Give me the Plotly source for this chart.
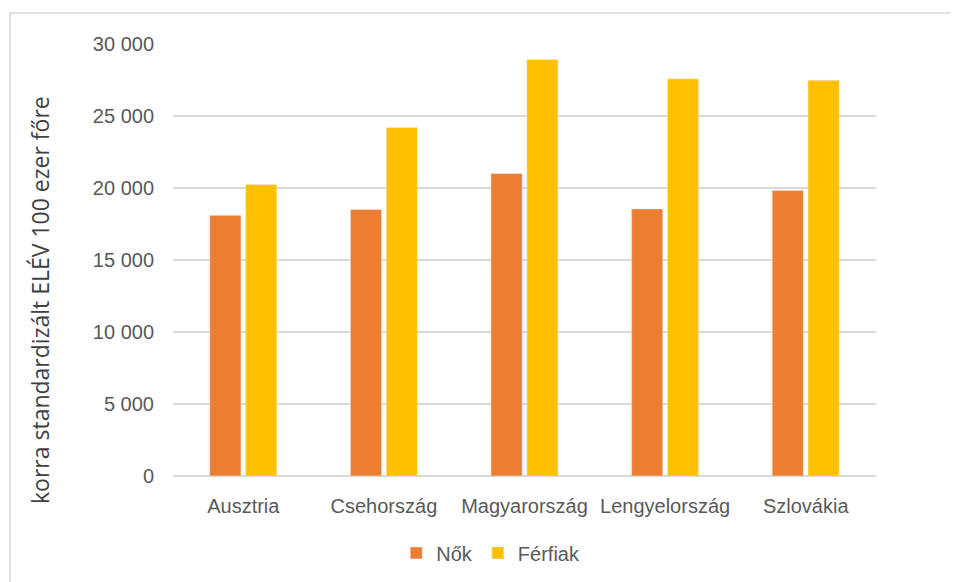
import plotly.graph_objects as go

categories = ["Ausztria", "Csehország", "Magyarország", "Lengyelország", "Szlovákia"]
nok = [18100, 18500, 21000, 18550, 19820]
ferfiak = [20250, 24200, 28920, 27580, 27480]
tick_vals = [0, 5000, 10000, 15000, 20000, 25000, 30000]
tick_text = ["0", "5 000", "10 000", "15 000", "20 000", "25 000", "30 000"]
y_title = "korra standardizált ELÉV 100 ezer főre"

FONT = "Liberation Sans, Arial, sans-serif"

fig = go.Figure()
fig.add_trace(go.Bar(name="Nők", x=categories, y=nok, marker=dict(color="#ED7D31")))
fig.add_trace(go.Bar(name="Férfiak", x=categories, y=ferfiak, marker=dict(color="#FFC000")))

# page body has an 8px margin, so figure coordinates are screen coordinates - 8
L, T = 165, 36
pw, ph = 703, 432
W, H = 959, 582
R = W - L - pw
B = H - T - ph

fig.update_layout(
    width=W, height=H,
    margin=dict(l=L, r=R, t=T, b=B, pad=0),
    paper_bgcolor="white", plot_bgcolor="white",
    barmode="group", bargap=0.49, bargroupgap=0.13,
    font=dict(family=FONT, size=20, color="#595959"),
    showlegend=True,
    legend=dict(orientation="h", x=0.452, xanchor="center", y=-0.178, yanchor="middle",
                font=dict(size=20, color="#595959"), traceorder="normal", itemwidth=30),
    xaxis=dict(showgrid=False, showline=False, ticks="", tickfont=dict(size=20, color="#595959"),
               ticklabelstandoff=16),
    yaxis=dict(range=[0, 30000], tickvals=tick_vals, ticktext=tick_text,
               showgrid=True, gridcolor="#d9d9d9", gridwidth=1.5,
               zeroline=True, zerolinecolor="#d9d9d9", zerolinewidth=1.5,
               showline=False, ticks="", ticklabelstandoff=18,
               tickfont=dict(size=20, color="#595959")),
    annotations=[dict(text=y_title, textangle=-90, xref="paper", yref="paper",
                      x=(32 - L) / pw, y=(T + ph - 292) / ph, xanchor="center", yanchor="middle",
                      showarrow=False,
                      font=dict(family="Open Sans, sans-serif", size=23, color="#404040"))],
    shapes=[dict(type="rect", xref="paper", yref="paper",
                 x0=(2 - L) / pw, x1=(W + 20 - L) / pw,
                 y0=(T + ph - (H + 20)) / ph, y1=(T + ph - 5) / ph,
                 line=dict(color="#d9d9d9", width=1.5), fillcolor="rgba(0,0,0,0)", layer="below")],
)

fig.write_html("out.html")
